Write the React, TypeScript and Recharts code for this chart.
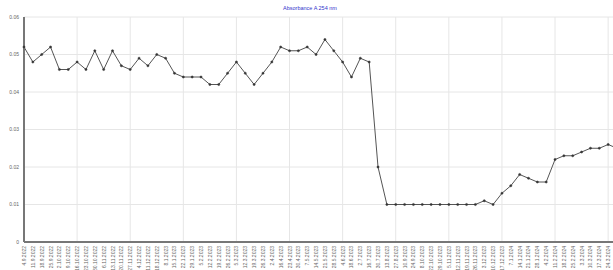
import { LineChart, Line, XAxis, YAxis, CartesianGrid, ReferenceLine } from "recharts";

// sample dates (x categories)
const dates = [
  "4.9.2022", "11.9.2022", "18.9.2022", "25.9.2022", "2.10.2022", "9.10.2022",
  "16.10.2022", "23.10.2022", "30.10.2022", "6.11.2022", "13.11.2022", "20.11.2022",
  "27.11.2022", "4.12.2022", "11.12.2022", "18.12.2022", "8.1.2023", "15.1.2023",
  "22.1.2023", "29.1.2023", "5.2.2023", "12.2.2023", "19.2.2023", "26.2.2023",
  "5.3.2023", "12.3.2023", "19.3.2023", "26.3.2023", "2.4.2023", "16.4.2023",
  "23.4.2023", "30.4.2023", "7.5.2023", "14.5.2023", "21.5.2023", "28.5.2023",
  "4.6.2023", "18.6.2023", "2.7.2023", "16.7.2023", "30.7.2023", "13.8.2023",
  "27.8.2023", "10.9.2023", "24.9.2023", "8.10.2023", "22.10.2023", "29.10.2023",
  "5.11.2023", "12.11.2023", "19.11.2023", "26.11.2023", "3.12.2023", "10.12.2023",
  "17.12.2023", "7.1.2024", "14.1.2024", "21.1.2024", "28.1.2024", "4.2.2024",
  "11.2.2024", "18.2.2024", "25.2.2024", "3.3.2024", "10.3.2024", "17.3.2024",
  "24.3.2024", "31.3.2024",
];

// absorbance at 254 nm
const absorbance = [
  0.052, 0.048, 0.05, 0.052, 0.046, 0.046, 0.048, 0.046, 0.051, 0.046, 0.051, 0.047,
  0.046, 0.049, 0.047, 0.05, 0.049, 0.045, 0.044, 0.044, 0.044, 0.042, 0.042, 0.045,
  0.048, 0.045, 0.042, 0.045, 0.048, 0.052, 0.051, 0.051, 0.052, 0.05, 0.054, 0.051,
  0.048, 0.044, 0.049, 0.048, 0.02, 0.01, 0.01, 0.01, 0.01, 0.01, 0.01, 0.01,
  0.01, 0.01, 0.01, 0.01, 0.011, 0.01, 0.013, 0.015, 0.018, 0.017, 0.016, 0.016,
  0.022, 0.023, 0.023, 0.024, 0.025, 0.025, 0.026, 0.025,
];

const yTicks = [0, 0.01, 0.02, 0.03, 0.04, 0.05, 0.06];

const data = dates.map((d, i) => ({ date: d, value: absorbance[i] }));
const gridDates = dates.filter((_, i) => i > 0 && i % 6 === 0);

// rotated date label, reading bottom-to-top, hanging below the axis
const DateTick = ({ x, y, payload }: any) => (
  <g transform={`translate(${x},${y}) rotate(-90)`}>
    <text
      x={0}
      y={0}
      dy={2}
      textAnchor="end"
      fontSize={5}
      fill="#666"
      fontFamily="Liberation Sans, Arial, sans-serif"
    >
      {payload.value}
    </text>
  </g>
);

export default function App() {
  return (
    <div
      style={{
        position: "absolute",
        left: 0,
        top: 0,
        width: 613,
        height: 270,
        overflow: "hidden",
        background: "#fff",
        fontFamily: "Liberation Sans, Arial, sans-serif",
      }}
    >
      <div
        style={{
          position: "absolute",
          top: 6,
          left: 0,
          width: 620,
          textAlign: "center",
          fontSize: 5.5,
          color: "#3333cc",
          lineHeight: 1,
        }}
      >
        Absorbance A 254 nm
      </div>
      <LineChart
        width={620}
        height={270}
        data={data}
        margin={{ top: 17, right: 3, left: 0, bottom: 0 }}
      >
        <CartesianGrid vertical={false} stroke="#e6e6e6" strokeWidth={1} />
        {gridDates.map((d) => (
          <ReferenceLine key={d} x={d} stroke="#e6e6e6" strokeWidth={1} />
        ))}
        <XAxis
          dataKey="date"
          interval={0}
          height={28}
          tick={<DateTick />}
          tickSize={0}
          tickMargin={4}
          tickLine={false}
          axisLine={{ stroke: "#777", strokeWidth: 2 }}
        />
        <YAxis
          width={24}
          domain={[0, 0.06]}
          ticks={yTicks}
          tickSize={0}
          tickMargin={5}
          tickLine={false}
          axisLine={{ stroke: "#777", strokeWidth: 2 }}
          tick={{ fontSize: 5, fill: "#666" }}
          tickFormatter={(v: number) => (v === 0 ? "0" : v.toFixed(2))}
        />
        <Line
          type="linear"
          dataKey="value"
          stroke="#555"
          strokeWidth={1}
          dot={{ r: 1.1, fill: "#333", stroke: "#333", strokeWidth: 0.5 }}
          isAnimationActive={false}
        />
      </LineChart>
    </div>
  );
}
